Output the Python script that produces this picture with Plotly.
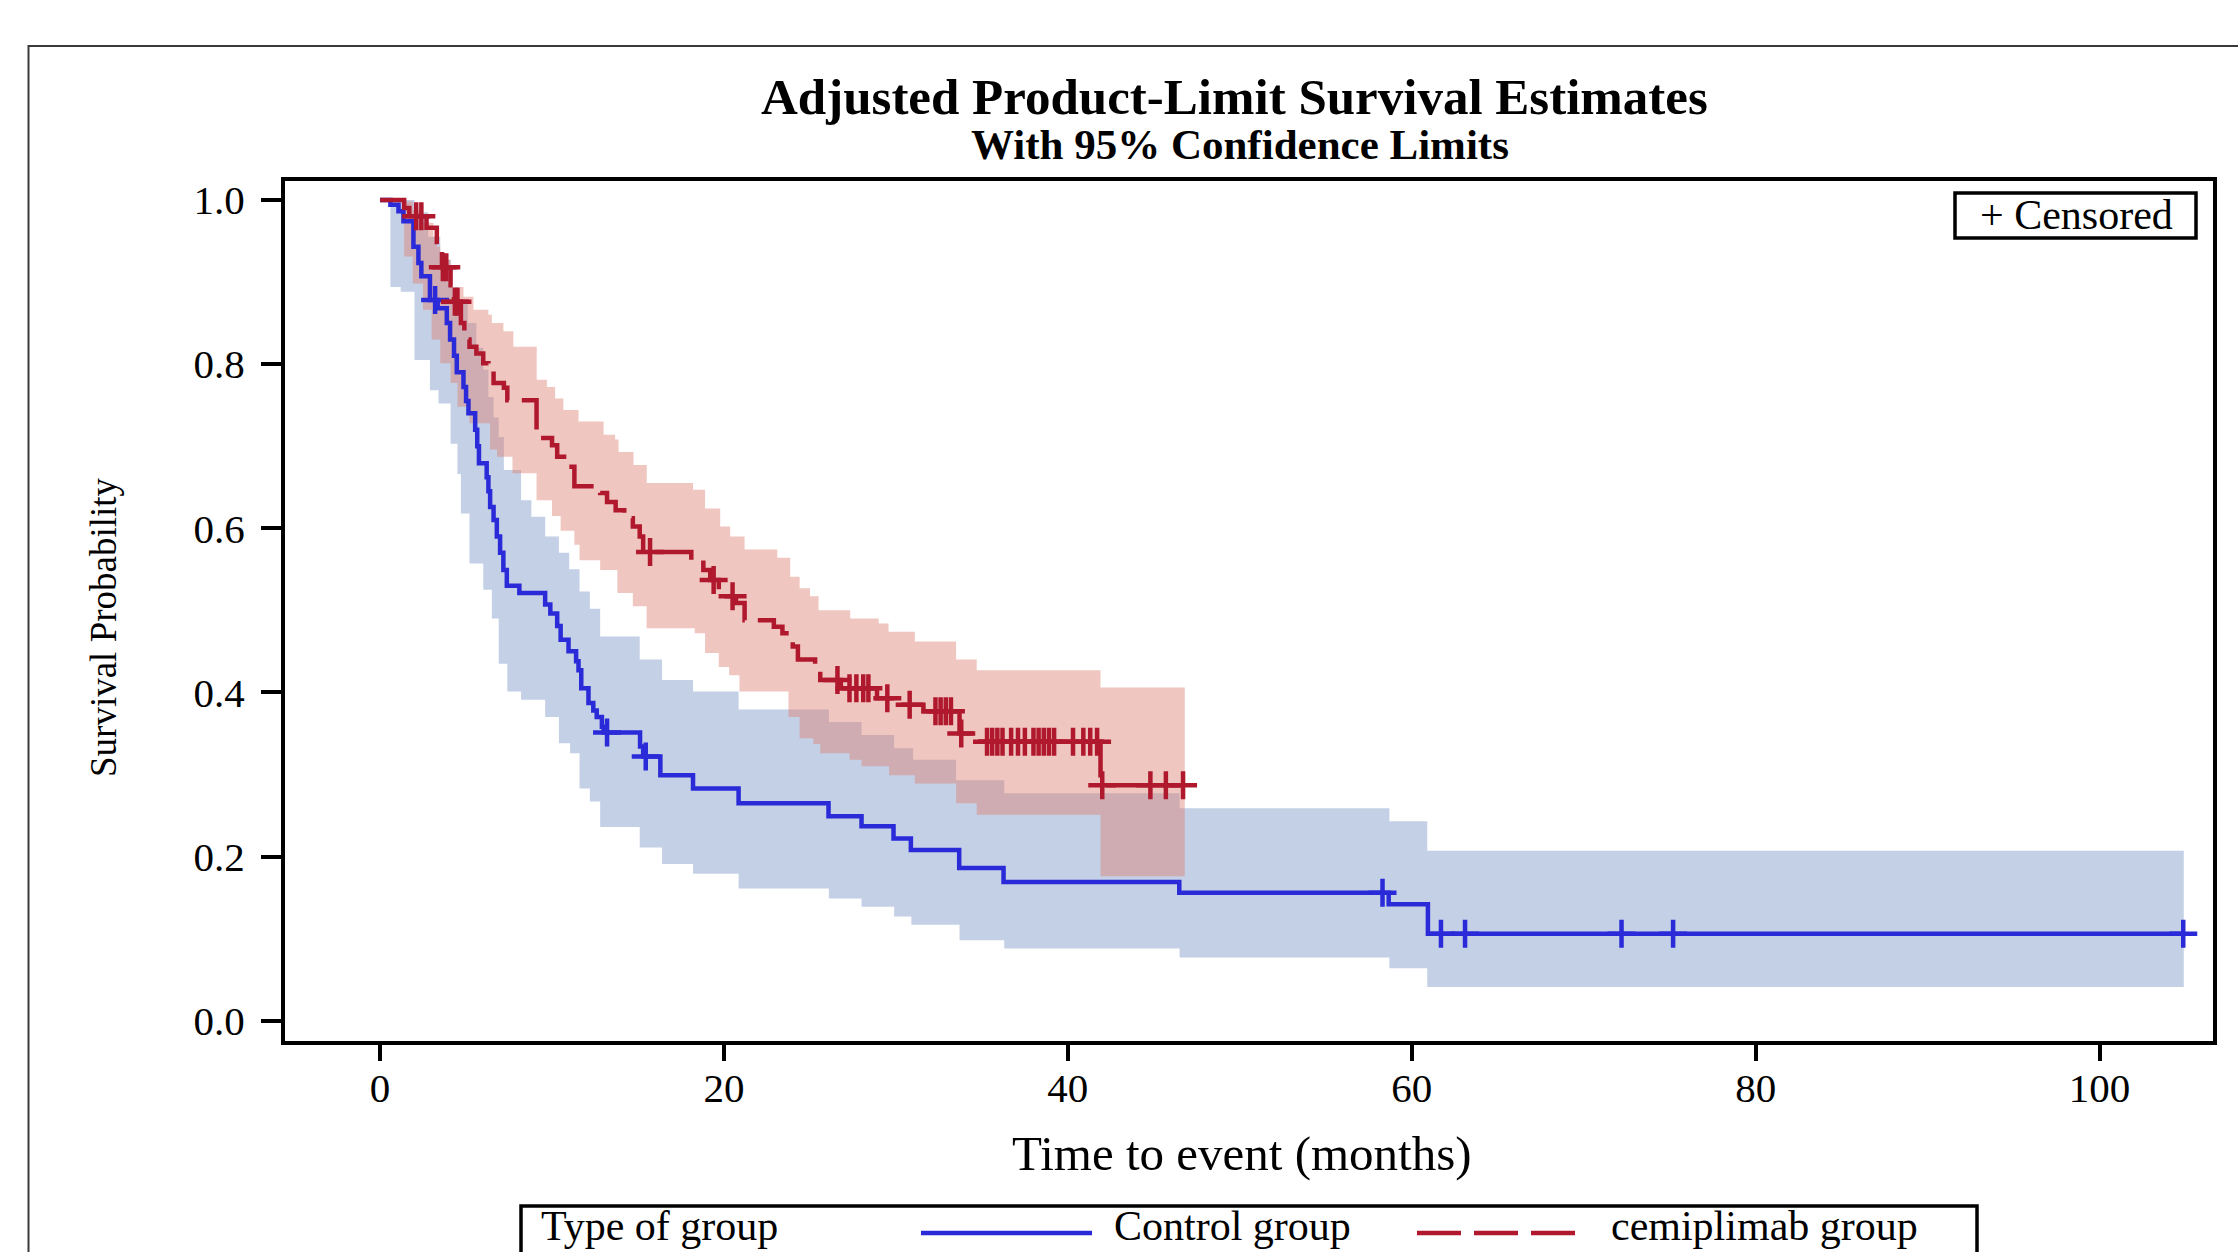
import numpy as np
import plotly.graph_objects as go

# ---------------- data ----------------
control_time = [0, 0.6, 1.07, 1.36, 1.94, 2.23, 2.4, 2.9, 3.35, 3.88,
                4.07, 4.3, 4.46, 4.85, 5.0, 5.14, 5.53, 5.65, 5.75, 6.2,
                6.3, 6.4, 6.6, 6.79, 6.98, 7.17, 7.37, 8.1, 9.6, 9.9,
                10.3, 10.5, 10.96, 11.4, 11.54, 11.7, 12.12, 12.4, 12.6, 12.9,
                13.0, 15.12, 15.3, 16.3, 18.2, 20.85, 26.08, 28.0, 29.86, 30.87,
                33.68, 36.26, 46.48, 58.66, 60.94]
control_surv = [1.0, 0.994, 0.986, 0.974, 0.943, 0.923, 0.907, 0.878, 0.868, 0.850,
                0.830, 0.810, 0.790, 0.772, 0.755, 0.740, 0.720, 0.700, 0.679, 0.662,
                0.645, 0.626, 0.610, 0.590, 0.570, 0.549, 0.530, 0.521, 0.507, 0.496,
                0.481, 0.464, 0.450, 0.438, 0.427, 0.405, 0.387, 0.378, 0.370, 0.358,
                0.351, 0.334, 0.322, 0.299, 0.283, 0.265, 0.249, 0.237, 0.222, 0.208,
                0.186, 0.169, 0.156, 0.142, 0.106]
control_end = 104.87
control_censor = [3.2, 13.2, 15.45, 58.3, 61.7, 63.1, 72.2, 75.2, 104.87]

control_ci_upper_time = [0.6, 2.0, 2.8, 3.5, 4.1, 4.6, 5.1, 5.6, 6.0, 6.3,
                         6.6, 6.9, 7.2, 8.2, 8.8, 9.6, 10.4, 11.0, 11.6, 12.2,
                         12.8, 15.1, 16.4, 18.2, 20.85, 26.1, 28.0, 29.9, 31.0, 33.5,
                         36.3, 46.5, 58.7, 60.9, 104.9]
control_ci_upper = [1.0, 0.985, 0.955, 0.927, 0.894, 0.874, 0.850, 0.820, 0.793, 0.760,
                    0.735, 0.711, 0.671, 0.634, 0.614, 0.590, 0.570, 0.550, 0.523, 0.502,
                    0.468, 0.440, 0.415, 0.401, 0.379, 0.364, 0.348, 0.332, 0.318, 0.293,
                    0.277, 0.259, 0.243, 0.207, 0.207]
control_ci_lower_time = [0.6, 1.2, 2.0, 2.9, 3.4, 4.1, 4.5, 4.7, 5.2, 6.0,
                         6.5, 6.9, 7.4, 8.2, 9.6, 10.4, 11.05, 11.6, 12.2, 12.8,
                         15.1, 16.4, 18.2, 20.85, 26.1, 28.0, 29.9, 30.9, 33.7, 36.3,
                         46.5, 58.7, 60.9, 104.9]
control_ci_lower = [0.894, 0.888, 0.805, 0.768, 0.752, 0.703, 0.666, 0.618, 0.557, 0.525,
                    0.490, 0.435, 0.401, 0.391, 0.370, 0.338, 0.326, 0.283, 0.267, 0.236,
                    0.211, 0.191, 0.179, 0.161, 0.149, 0.139, 0.127, 0.117, 0.098, 0.088,
                    0.077, 0.064, 0.041, 0.041]

cemi_time = [0, 1.4, 1.7, 2.7, 3.3, 3.6, 4.1, 4.3, 4.7, 4.9,
             5.2, 5.6, 6.0, 6.3, 6.6, 7.2, 7.4, 9.1, 10.0, 10.3,
             10.7, 11.3, 12.8, 13.2, 13.7, 14.2, 14.7, 15.1, 15.3, 18.1,
             18.8, 19.2, 19.7, 20.7, 21.2, 22.9, 23.4, 24.0, 24.3, 25.3,
             25.6, 26.8, 28.9, 29.9, 31.6, 33.7, 34.4, 41.9]
cemi_surv = [1.0, 0.990, 0.980, 0.966, 0.942, 0.918, 0.896, 0.876, 0.850, 0.830,
             0.821, 0.813, 0.801, 0.793, 0.777, 0.771, 0.756, 0.710, 0.701, 0.687,
             0.675, 0.651, 0.643, 0.632, 0.622, 0.612, 0.602, 0.590, 0.571, 0.561,
             0.549, 0.537, 0.517, 0.509, 0.488, 0.480, 0.472, 0.456, 0.440, 0.427,
             0.415, 0.405, 0.393, 0.385, 0.377, 0.350, 0.340, 0.287]
cemi_end = 46.7
cemi_censor = [2.1, 2.4, 3.65, 3.85, 4.35, 4.5, 15.7, 19.4, 20.5, 26.6,
               27.3, 27.7, 28.1, 28.4, 29.5, 30.8, 32.3, 32.6, 32.9, 33.2,
               33.8, 35.3, 35.6, 35.9, 36.2, 36.7, 37.1, 37.5, 38.0, 38.3,
               38.6, 38.9, 39.2, 40.3, 40.9, 41.3, 41.7, 42.0, 44.8, 45.7, 46.7]

cemi_ci_upper_time = [1.4, 1.9, 2.5, 3.1, 3.3, 3.5, 4.1, 4.85, 5.43, 6.3,
                      6.5, 7.17, 7.75, 9.11, 9.7, 10.18, 10.66, 11.54, 13.0, 13.67,
                      13.87, 14.74, 15.51, 18.2, 18.9, 19.78, 20.36, 21.2, 23.1, 23.85,
                      24.4, 25.0, 25.5, 27.34, 29.0, 29.57, 31.1, 33.5, 34.7, 41.9, 46.8]
cemi_ci_upper = [0.998, 0.988, 0.972, 0.955, 0.943, 0.927, 0.894, 0.882, 0.866, 0.860,
                 0.850, 0.840, 0.821, 0.781, 0.772, 0.758, 0.744, 0.730, 0.714, 0.708,
                 0.693, 0.677, 0.655, 0.647, 0.624, 0.602, 0.590, 0.574, 0.564, 0.541,
                 0.527, 0.517, 0.500, 0.490, 0.484, 0.474, 0.462, 0.440, 0.427, 0.406, 0.406]
cemi_ci_lower_time = [1.4, 1.9, 2.5, 3.0, 3.5, 4.1, 4.5, 5.2, 6.4, 6.8,
                      7.7, 9.1, 10.0, 10.5, 11.3, 11.6, 12.8, 13.8, 14.7, 15.5,
                      18.3, 18.9, 19.7, 20.3, 20.9, 23.75, 24.4, 25.2, 25.6, 27.3,
                      28.0, 29.6, 31.1, 33.5, 34.7, 41.9, 46.8]
cemi_ci_lower = [0.931, 0.898, 0.866, 0.830, 0.801, 0.777, 0.748, 0.728, 0.696, 0.687,
                 0.667, 0.634, 0.615, 0.597, 0.580, 0.561, 0.549, 0.521, 0.505, 0.478,
                 0.472, 0.448, 0.431, 0.421, 0.401, 0.370, 0.344, 0.337, 0.326, 0.318,
                 0.310, 0.299, 0.289, 0.265, 0.251, 0.176, 0.176]

x_ticks = [0, 20, 40, 60, 80, 100]
y_ticks = [0.0, 0.2, 0.4, 0.6, 0.8, 1.0]
y_ticktext = ["0.0", "0.2", "0.4", "0.6", "0.8", "1.0"]
group_labels = ["Control group", "cemiplimab group"]

# ---------------- styling ----------------
FONT = "Liberation Serif"
BLUE = "#2A2AD8"
RED = "#B0182E"
BLUE_BAND = "rgba(121,148,198,0.44)"
RED_BAND = "rgba(221,125,112,0.44)"
DASH = "44px,13px"
LW = 4.5

W, H = 2238, 1252
ML, MR, MT, MB = 285, 25, 181, 211
PW, PH = W - ML - MR, H - MT - MB


def px(X):
    return (X - ML) / PW


def py(Y):
    return (H - MB - Y) / PH


def step_value(times, values, t):
    i = int(np.searchsorted(np.asarray(times), t, side="right")) - 1
    return values[max(i, 0)]


fig = go.Figure()

# confidence bands
fig.add_trace(go.Scatter(x=control_ci_upper_time, y=control_ci_upper, mode="lines",
                         line=dict(width=0, shape="hv"), hoverinfo="skip", showlegend=False))
fig.add_trace(go.Scatter(x=control_ci_lower_time, y=control_ci_lower, mode="lines",
                         line=dict(width=0, shape="hv"), fill="tonexty", fillcolor=BLUE_BAND,
                         hoverinfo="skip", showlegend=False))
fig.add_trace(go.Scatter(x=cemi_ci_upper_time, y=cemi_ci_upper, mode="lines",
                         line=dict(width=0, shape="hv"), hoverinfo="skip", showlegend=False))
fig.add_trace(go.Scatter(x=cemi_ci_lower_time, y=cemi_ci_lower, mode="lines",
                         line=dict(width=0, shape="hv"), fill="tonexty", fillcolor=RED_BAND,
                         hoverinfo="skip", showlegend=False))

# survival step curves
fig.add_trace(go.Scatter(x=control_time + [control_end], y=control_surv + [control_surv[-1]],
                         mode="lines", line=dict(color=BLUE, width=LW, shape="hv"),
                         name=group_labels[0], showlegend=False))
fig.add_trace(go.Scatter(x=cemi_time + [cemi_end], y=cemi_surv + [cemi_surv[-1]],
                         mode="lines", line=dict(color=RED, width=LW, shape="hv", dash=DASH),
                         name=group_labels[1], showlegend=False))

# censor marks
fig.add_trace(go.Scatter(x=control_censor,
                         y=[step_value(control_time, control_surv, t) for t in control_censor],
                         mode="markers",
                         marker=dict(symbol="cross-thin", size=20, color=BLUE,
                                     line=dict(color=BLUE, width=4.5)),
                         showlegend=False))
fig.add_trace(go.Scatter(x=cemi_censor,
                         y=[step_value(cemi_time, cemi_surv, t) for t in cemi_censor],
                         mode="markers",
                         marker=dict(symbol="cross-thin", size=20, color=RED,
                                     line=dict(color=RED, width=4.5)),
                         showlegend=False))

axis_common = dict(showgrid=False, zeroline=False, showline=True, linewidth=4,
                   linecolor="black", mirror=True, ticks="outside", tickwidth=4,
                   tickcolor="black", tickfont=dict(family=FONT, size=41, color="black"))

fig.update_xaxes(range=[-5.53, 106.6], tickvals=x_ticks, ticklen=16,
                 ticklabelstandoff=-8, **axis_common)
fig.update_yaxes(range=[-0.0247, 1.023], tickvals=y_ticks, ticktext=y_ticktext,
                 ticklen=20, ticklabelstandoff=8, **axis_common)

annotations = [
    dict(text="<b>Adjusted Product-Limit Survival Estimates</b>", x=px(1234), y=py(97),
         font=dict(size=51)),
    dict(text="<b>With 95% Confidence Limits</b>", x=px(1240), y=py(144),
         font=dict(size=43)),
    dict(text="Time to event (months)", x=px(1242), y=py(1153), font=dict(size=49)),
    dict(text="Survival Probability", x=px(103), y=py(627), textangle=-90,
         font=dict(size=37)),
    dict(text="+ Censored", x=px(2076), y=py(215), font=dict(size=42)),
    dict(text="Type of group", x=px(540), y=py(1226), xanchor="left", font=dict(size=42)),
    dict(text=group_labels[0], x=px(1113), y=py(1226), xanchor="left", font=dict(size=42)),
    dict(text=group_labels[1], x=px(1610), y=py(1226), xanchor="left", font=dict(size=42)),
]
for a in annotations:
    a.setdefault("xanchor", "center")
    a["yanchor"] = "middle"
    a["xref"] = "paper"
    a["yref"] = "paper"
    a["showarrow"] = False
    a["borderpad"] = 0
    f = a["font"]
    f["family"] = FONT
    f["color"] = "black"

shapes = [
    # outer frame
    dict(type="rect", x0=px(28.5), x1=px(2250), y0=py(1270), y1=py(46),
         line=dict(color="#3a3a3a", width=2)),
    # censored box
    dict(type="rect", x0=px(1955), x1=px(2196), y0=py(238), y1=py(193),
         line=dict(color="black", width=3.5), fillcolor="white"),
    # legend box
    dict(type="rect", x0=px(521), x1=px(1977), y0=py(1265), y1=py(1206),
         line=dict(color="black", width=3.5)),
    # legend samples
    dict(type="line", x0=px(921), x1=px(1092), y0=py(1233), y1=py(1233),
         line=dict(color=BLUE, width=LW)),
    dict(type="line", x0=px(1417), x1=px(1578), y0=py(1233), y1=py(1233),
         line=dict(color=RED, width=LW, dash=DASH)),
]
for s in shapes:
    s["xref"] = "paper"
    s["yref"] = "paper"

fig.update_layout(width=W, height=H, autosize=False,
                  margin=dict(l=ML, r=MR, t=MT, b=MB, pad=0),
                  paper_bgcolor="white", plot_bgcolor="white",
                  annotations=annotations, shapes=shapes,
                  font=dict(family=FONT, color="black"))

fig.write_html("out.html")
